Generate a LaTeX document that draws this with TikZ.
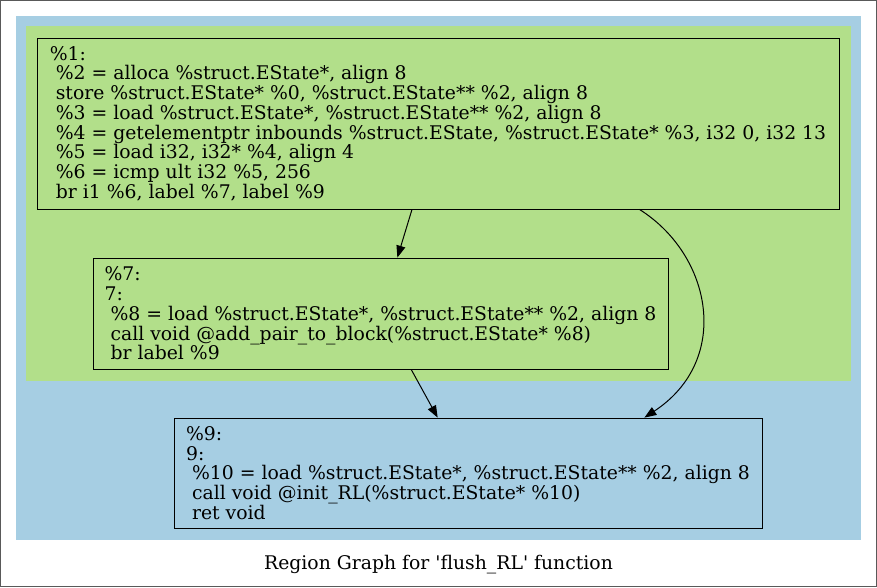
\documentclass[tikz,border=0pt]{standalone}
\usepackage{fontspec}
\setmainfont{DejaVu Serif}
\usepackage{tikz}
\usetikzlibrary{arrows.meta, positioning}

\definecolor{regionblue}{HTML}{A6CEE3}
\definecolor{regiongreen}{HTML}{B2DF8A}

\begin{document}
\begin{tikzpicture}[x=1pt, y=-1pt]
        \tikzstyle{block} = [rectangle, draw, thick, align=left, inner sep=0pt, font=\fontsize{18.8}{19.7}\selectfont]
        \tikzstyle{line} = [draw, -{Triangle[length=12pt, width=9pt]}, line width=1pt]

        \useasboundingbox (0,0) rectangle (877,587);
        \draw [gray!70!black] (0.5,0.5) rectangle (876.5,586.5);

        % regions
        \fill [regionblue] (16,16) rectangle (861,540);
        \fill [regiongreen] (26,26) rectangle (851,381);

        \node [block, minimum width=802pt, minimum height=171pt] (b1) at (438,123.5)
            {\%1:\\
             \ \%2 = alloca \%struct.EState*, align 8\\
             \ store \%struct.EState* \%0, \%struct.EState** \%2, align 8\\
             \ \%3 = load \%struct.EState*, \%struct.EState** \%2, align 8\\
             \ \%4 = getelementptr inbounds \%struct.EState, \%struct.EState* \%3, i32 0, i32 13\\
             \ \%5 = load i32, i32* \%4, align 4\\
             \ \%6 = icmp ult i32 \%5, 256\\
             \ br i1 \%6, label \%7, label \%9};
        \node [block, minimum width=575pt, minimum height=111pt] (b7) at (380.5,313.5)
            {\%7:\\
             7:\\
             \ \%8 = load \%struct.EState*, \%struct.EState** \%2, align 8\\
             \ call void @add\_pair\_to\_block(\%struct.EState* \%8)\\
             \ br label \%9};
        \node [block, minimum width=588pt, minimum height=110pt] (b9) at (468,473)
            {\%9:\\
             9:\\
             \ \%10 = load \%struct.EState*, \%struct.EState** \%2, align 8\\
             \ call void @init\_RL(\%struct.EState* \%10)\\
             \ ret void};

        \path [line] (b1) -- (b7);
        \path [line] (b7) -- (b9);
        \path [line] ([xshift=-200pt]b1.south east) .. controls (712,255) and (732,360) .. ([xshift=-118pt]b9.north east);

        \node [font=\fontsize{18.8}{20}\selectfont] (title) at (438.5,565) {Region Graph for \textquotesingle flush\_RL\textquotesingle\ function};
\end{tikzpicture}
\end{document}
